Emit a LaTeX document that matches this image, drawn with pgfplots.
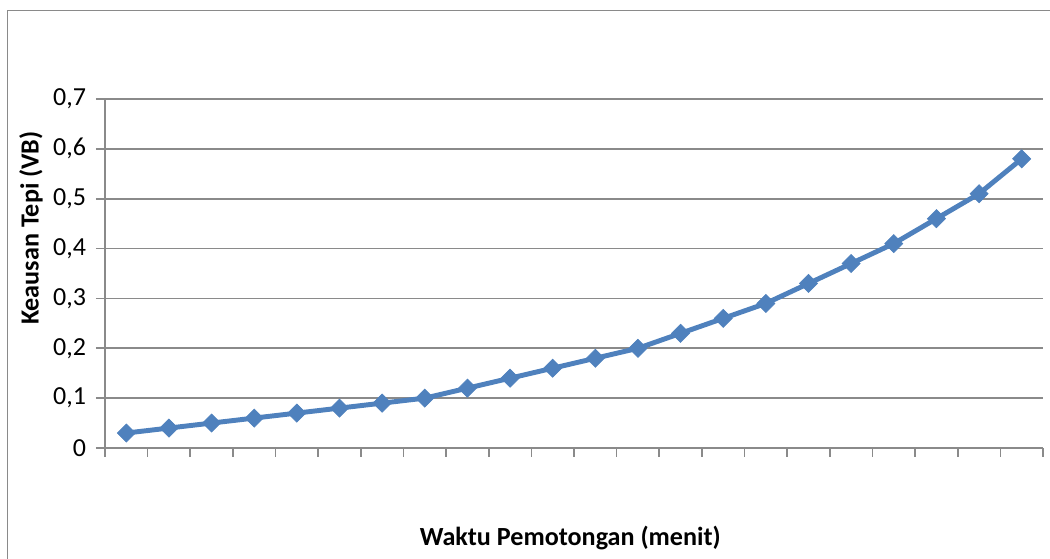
\documentclass[border=0pt]{standalone}
\usepackage{pgfplots}
\pgfplotsset{compat=1.18}
\usepackage{fontspec}
\setmainfont{Carlito}

\definecolor{seriesblue}{HTML}{4F81BD}
\definecolor{gridgray}{HTML}{8A8A8A}

\begin{document}
\begin{tikzpicture}[x=1pt,y=1pt]
  % page extent and chart-area frame
  \useasboundingbox (0,0) rectangle (787.5,419.25);
  \draw[gridgray, line width=1.4pt] (5.6,-2) -- (5.6,411.4) -- (790,411.4);

  \begin{axis}[
    at={(78.75pt,83.25pt)}, anchor=origin,
    scale only axis,
    width=703.5pt, height=261.75pt,
    xmin=0.5, xmax=22.5,
    ymin=0, ymax=0.7,
    axis x line*=bottom, axis y line*=left,
    axis line style={gridgray, line width=1.2pt, -},
    xtick={0.5,1.5,...,22.5},
    xticklabels={},
    ytick={0,0.1,...,0.7},
    tick align=outside,
    major tick length=6.75pt,
    tick style={gridgray, line width=1.2pt},
    ymajorgrids,
    grid style={gridgray, line width=1.2pt},
    clip=false,
    tick label style={font=\fontsize{19.5}{22}\selectfont},
    yticklabel style={xshift=-4pt},
    /pgf/number format/assume math mode=true,
    /pgf/number format/use comma,
    /pgf/number format/fixed,
    /pgf/number format/precision=1,
    xlabel={Waktu Pemotongan (menit)},
    ylabel={Keausan Tepi (VB)},
    label style={font=\fontsize{19.6}{22}\selectfont\bfseries},
    xlabel style={at={(axis description cs:0.496,-0.258)}, anchor=center},
    ylabel style={at={(axis description cs:-0.0789,0.630)}, anchor=center},
  ]
    \addplot[seriesblue, line width=3.7pt,
      mark=square*, mark size=4.8pt,
      mark options={rotate=45, fill=seriesblue, draw=seriesblue, line width=0.5pt}]
      coordinates {
        (1,0.03) (2,0.04) (3,0.05) (4,0.06) (5,0.07) (6,0.08)
        (7,0.09) (8,0.10) (9,0.12) (10,0.14) (11,0.16) (12,0.18)
        (13,0.20) (14,0.23) (15,0.26) (16,0.29) (17,0.33) (18,0.37)
        (19,0.41) (20,0.46) (21,0.51) (22,0.58)
      };
  \end{axis}
\end{tikzpicture}
\end{document}
